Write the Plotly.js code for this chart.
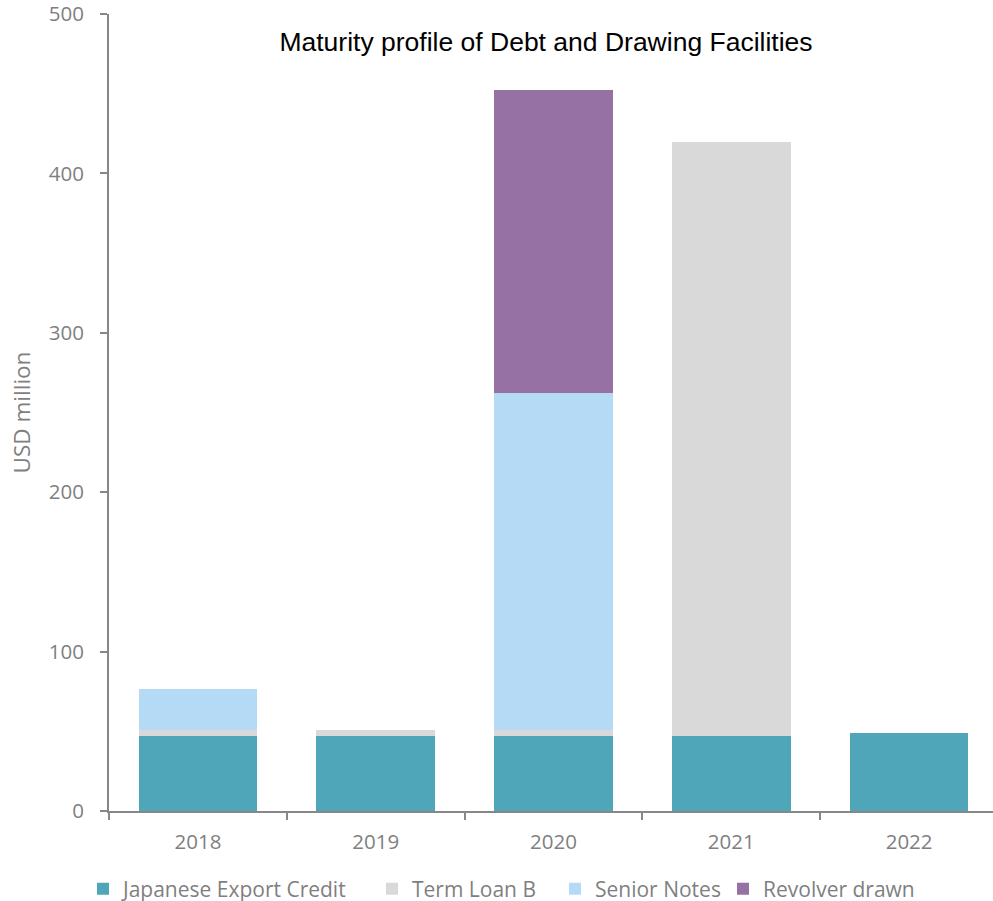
<!DOCTYPE html>
<html>
<head>
<meta charset="utf-8">
<script src="https://cdn.plot.ly/plotly-3.0.1.min.js"></script>
<style>
html,body{margin:0;padding:0;overflow:hidden;background:#fff;}
#chart{width:998px;height:901px;}
</style>
</head>
<body>
<div id="chart"></div>
<script>
const years = ['2018', '2019', '2020', '2021', '2022'];
const japaneseExportCredit = [47, 47, 47, 47, 49];
const termLoanB = [4, 4, 4, 372.5, 0];
const seniorNotes = [25.6, 0, 211.5, 0, 0];
const revolverDrawn = [0, 0, 190, 0, 0];
const seriesNames = ['Japanese Export Credit', 'Term Loan B', 'Senior Notes', 'Revolver drawn'];
const seriesColors = ['#4ea6b8', '#d9d9d9', '#b4daf5', '#9672a4'];
const seriesValues = [japaneseExportCredit, termLoanB, seniorNotes, revolverDrawn];
const legendIds = ['legend', 'legend2', 'legend3', 'legend4'];

const traces = seriesValues.map((vals, i) => ({
  type: 'bar',
  name: seriesNames[i],
  x: years,
  y: vals,
  legend: legendIds[i],
  marker: {color: seriesColors[i], line: {width: 0}},
  hoverinfo: 'x+y+name'
}));

const grey = '#7f7f7f';
const tickFont = {family: 'Open Sans, sans-serif', size: 20.5, color: grey};
const legendFont = {family: 'Open Sans, sans-serif', size: 21, color: grey};
const legendLeft = [83, 372, 555, 723];

const layout = {
  width: 998,
  height: 901,
  margin: {l: 109, r: 0, t: 14, b: 90},
  paper_bgcolor: '#ffffff',
  plot_bgcolor: '#ffffff',
  barmode: 'stack',
  bargap: 0.333,
  showlegend: true,
  title: {
    text: 'Maturity profile of Debt and Drawing Facilities',
    font: {family: 'Liberation Sans, Arial, sans-serif', size: 26.5, color: '#000000'},
    xref: 'container', x: 546/998, xanchor: 'center',
    yref: 'container', y: 1 - 42/901, yanchor: 'middle'
  },
  xaxis: {
    type: 'category',
    showline: true, linecolor: '#878787', linewidth: 2,
    ticks: 'outside', tickson: 'boundaries', ticklen: 7, tickwidth: 2, tickcolor: '#878787',
    tickfont: tickFont,
    ticklabelstandoff: 11,
    showgrid: false, zeroline: false,
    fixedrange: true
  },
  yaxis: {
    range: [0, 500], dtick: 100, tick0: 0,
    showline: true, linecolor: '#878787', linewidth: 2,
    ticks: 'outside', ticklen: 7, tickwidth: 2, tickcolor: '#878787',
    tickfont: tickFont,
    ticklabelstandoff: 12,
    ticklabeloverflow: 'allow',
    showgrid: false, zeroline: false,
    title: {text: 'USD million', font: {family: 'Open Sans, sans-serif', size: 22.5, color: grey}, standoff: 12},
    fixedrange: true
  }
};

legendIds.forEach((id, i) => {
  layout[id] = {
    orientation: 'h',
    xref: 'container', x: legendLeft[i] / 998, xanchor: 'left',
    yref: 'container', y: 1 - 889/901, yanchor: 'middle',
    font: legendFont,
    itemwidth: 30,
    bgcolor: 'rgba(0,0,0,0)'
  };
});

Plotly.newPlot('chart', traces, layout, {displayModeBar: false, staticPlot: true});
</script>
</body>
</html>
